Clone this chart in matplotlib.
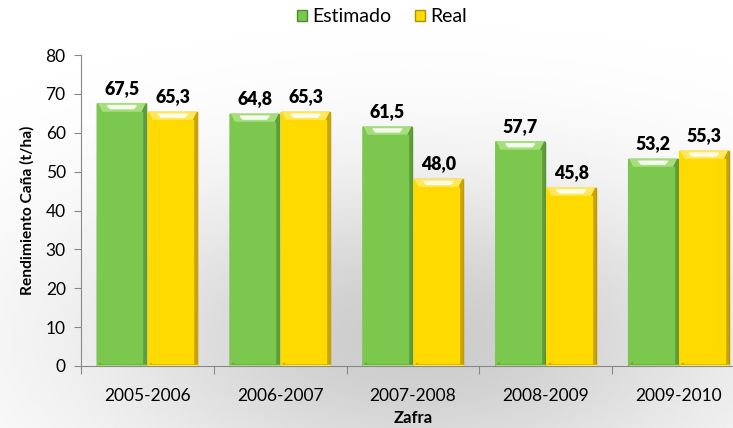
import numpy as np
import matplotlib.pyplot as plt
from matplotlib.patches import Polygon, Rectangle

zafras = ['2005-2006', '2006-2007', '2007-2008', '2008-2009', '2009-2010']
estimado = [67.5, 64.8, 61.5, 57.7, 53.2]
real = [65.3, 65.3, 48.0, 45.8, 55.3]

plt.rcParams['font.family'] = ['Lato', 'DejaVu Sans']

W, H = 733, 428
fig = plt.figure(figsize=(W / 100, H / 100), dpi=100)

# soft grey shading behind the chart
bg = fig.add_axes([0, 0, 1, 1], zorder=-10)
xx, yy = np.meshgrid(np.linspace(0, W, 300), np.linspace(0, H, 200))
shade = 0.2 * np.exp(-((xx - 420) / 330) ** 2 - ((yy - 340) / 160) ** 2)
bg.imshow(1 - shade, cmap='gray', vmin=0, vmax=1, extent=[0, W, H, 0], aspect='auto')
bg.axis('off')

left, right, bottom, top = 81, 745, 62, 373
ax = fig.add_axes([left / W, bottom / H, (right - left) / W, (top - bottom) / H])
ax.patch.set_alpha(0)
ax.set_xlim(-0.5, len(zafras) - 0.5)
ax.set_ylim(0, 80)

px = 1 / 132.8          # one pixel in x data units
py = 80 / (top - bottom)  # one pixel in y data units


def bevel_bar(x0, w, h, face, light, dark, edge):
    x1 = x0 + w
    b = 4 * px
    t = 8 * py
    s = 3 * py
    ax.add_patch(Rectangle((x0, 0), w, h, color=edge, zorder=2))
    # top bevel with a highlight streak
    ax.add_patch(Polygon([(x0, h), (x1, h), (x1 - b, h - t), (x0 + b, h - t)],
                         color=light, zorder=3))
    ax.add_patch(Polygon([(x0 + 2.5 * b, h - 2 * py), (x1 - 2.5 * b, h - 2 * py),
                          (x1 - 3.2 * b, h - 5 * py), (x0 + 3.2 * b, h - 5 * py)],
                         color='white', alpha=0.85, zorder=4))
    # side and bottom bevels
    ax.add_patch(Polygon([(x1, h), (x1, 0), (x1 - b, s), (x1 - b, h - t)],
                         color=dark, zorder=3))
    ax.add_patch(Polygon([(x0, h), (x0, 0), (x0 + b, s), (x0 + b, h - t)],
                         color=face, zorder=3))
    ax.add_patch(Polygon([(x0, 0), (x1, 0), (x1 - b, s), (x0 + b, s)],
                         color=dark, zorder=3))
    ax.add_patch(Rectangle((x0 + b, s), w - 2 * b, h - t - s, color=face, zorder=3))
    ax.add_patch(Rectangle((x0, 0), w, 1 * py, color=light, zorder=4))


bw = 49 * px
gap = 2 * px
x = np.arange(len(zafras))
for i in x:
    xe = i - gap / 2 - bw
    xr = i + gap / 2
    bevel_bar(xe, bw, estimado[i], '#7CC84E', '#A6DE7C', '#5E9E3A', '#4F8A30')
    bevel_bar(xr, bw, real[i], '#FFDA00', '#FFE95A', '#C9A400', '#B08F00')
    ax.annotate(f'{estimado[i]:.1f}'.replace('.', ','), (xe + bw / 2, estimado[i]),
                xytext=(0, 5), textcoords='offset points', ha='center', va='bottom',
                fontsize=12.8, fontweight='heavy', zorder=5)
    ax.annotate(f'{real[i]:.1f}'.replace('.', ','), (xr + bw / 2, real[i]),
                xytext=(0, 5), textcoords='offset points', ha='center', va='bottom',
                fontsize=12.8, fontweight='heavy', zorder=5)

# x axis: ticks at group boundaries, labels at centres
ax.set_xticks(np.arange(len(zafras) + 1) - 0.5)
ax.set_xticklabels([])
ax.tick_params(axis='x', which='major', length=6, color='#888888')
ax.set_xticks(x, minor=True)
ax.set_xticklabels(zafras, minor=True, fontsize=12.5)
ax.tick_params(axis='x', which='minor', length=0, pad=16)

ax.set_yticks(np.arange(0, 81, 10))
ax.tick_params(axis='y', length=5, color='#888888', labelsize=12.5, pad=6)

for side in ['top', 'right']:
    ax.spines[side].set_visible(False)
for side in ['left', 'bottom']:
    ax.spines[side].set_color('#888888')

ax.set_xlabel('Zafra', fontsize=12, fontweight='bold', labelpad=4)
ax.set_ylabel('Rendimiento Caña (t/ha)', fontsize=11.2, fontweight='bold', labelpad=8)

# legend
handles = [Rectangle((0, 0), 1, 1, facecolor='#7CC84E', edgecolor='#4F8A30'),
           Rectangle((0, 0), 1, 1, facecolor='#FFDA00', edgecolor='#B08F00')]
fig.legend(handles, ['Estimado', 'Real'], loc='center', bbox_to_anchor=(382 / W, 1 - 17 / H),
           ncol=2, frameon=False, fontsize=14, handlelength=0.5, handleheight=0.5,
           handletextpad=0.3, columnspacing=1.2)

fig.savefig('out.png', dpi=100)
